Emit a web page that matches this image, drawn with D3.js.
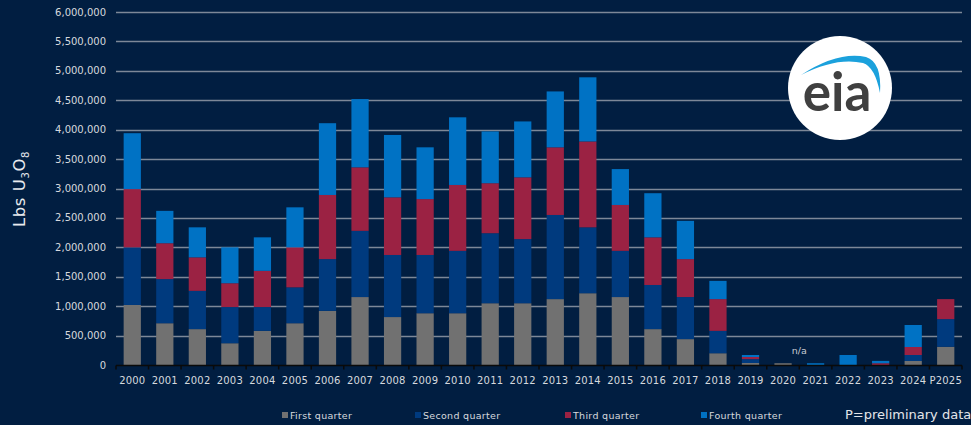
<!DOCTYPE html>
<html>
<head>
<meta charset="utf-8">
<script src="https://cdn.jsdelivr.net/npm/d3@7"></script>
<style>
  html, body { margin: 0; padding: 0; background: #011e41; }
  svg { display: block; font-family: "DejaVu Sans", sans-serif; }
</style>
</head>
<body>
<div id="chart"></div>
<script>
// quarterly U3O8 production, lbs
var years = ["2000", "2001", "2002", "2003", "2004", "2005", "2006", "2007", "2008", "2009",
  "2010", "2011", "2012", "2013", "2014", "2015", "2016", "2017", "2018", "2019",
  "2020", "2021", "2022", "2023", "2024", "P2025"];
var q1 = [1020000, 710000, 610000, 370000, 580000, 710000, 920000, 1155000, 815000, 880000,
  880000, 1050000, 1050000, 1120000, 1220000, 1155000, 610000, 440000, 200000, 34000,
  30000, 0, 0, 0, 68000, 310000];
var q2 = [980000, 750000, 650000, 615000, 405000, 610000, 880000, 1125000, 1055000, 990000,
  1060000, 1190000, 1090000, 1430000, 1120000, 785000, 750000, 715000, 380000, 66000,
  0, 0, 0, 0, 102000, 470000];
var q3 = [990000, 610000, 570000, 405000, 615000, 680000, 1090000, 1080000, 980000, 950000,
  1120000, 850000, 1050000, 1150000, 1460000, 780000, 810000, 645000, 540000, 36000,
  0, 0, 0, 30000, 136000, 340000];
var q4 = [950000, 550000, 510000, 610000, 570000, 680000, 1220000, 1160000, 1060000, 880000,
  1150000, 880000, 950000, 950000, 1090000, 610000, 750000, 650000, 310000, 34000,
  0, 30000, 170000, 40000, 374000, 0];
var quarters = ["First quarter", "Second quarter", "Third quarter", "Fourth quarter"];
var yTicks = d3.range(0, 6000001, 500000);

var colors = ["#717171", "#003a7e", "#9b2243", "#0072c4"];

var W = 971, H = 425;
var margin = { left: 116, right: 9, top: 12, bottom: 60 };

var svg = d3.select("#chart").append("svg")
  .attr("width", W)
  .attr("height", H);

svg.append("rect")
  .attr("width", W)
  .attr("height", H)
  .attr("fill", "#011e41");

var x = d3.scaleBand()
  .domain(years)
  .range([margin.left, W - margin.right])
  .paddingInner(0.47)
  .paddingOuter(0.235);

var y = d3.scaleLinear()
  .domain([0, 6000000])
  .range([H - margin.bottom, margin.top]);

// gridlines
svg.append("g")
  .selectAll("line")
  .data(yTicks.slice(1))
  .enter()
  .append("line")
  .attr("x1", margin.left)
  .attr("x2", W - margin.right)
  .attr("y1", d => Math.round(y(d)) + 0.5)
  .attr("y2", d => Math.round(y(d)) + 0.5)
  .attr("stroke", "#7d8898")
  .attr("stroke-width", 1.4);

// y labels
svg.append("g")
  .selectAll("text")
  .data(yTicks)
  .enter()
  .append("text")
  .attr("x", 106)
  .attr("y", d => y(d) + 3.5)
  .attr("text-anchor", "end")
  .attr("fill", "#d6d9de")
  .attr("font-size", 10)
  .text(d => d3.format(",")(d));

// stacked bars
var rows = years.map(function(yr, i) {
  return { year: yr, q1: q1[i], q2: q2[i], q3: q3[i], q4: q4[i] };
});
var stack = d3.stack().keys(["q1", "q2", "q3", "q4"])(rows);

svg.append("g")
  .selectAll("g")
  .data(stack)
  .enter()
  .append("g")
  .attr("fill", (d, i) => colors[i])
  .selectAll("rect")
  .data(d => d)
  .enter()
  .append("rect")
  .attr("x", d => x(d.data.year))
  .attr("width", x.bandwidth())
  .attr("y", d => y(d[1]))
  .attr("height", d => y(d[0]) - y(d[1]));

// x axis
var xAxis = svg.append("g")
  .attr("transform", "translate(0," + (y(0) + 0.5) + ")");
xAxis.append("line")
  .attr("x1", margin.left)
  .attr("x2", W - margin.right)
  .attr("stroke", "#0a0a0a")
  .attr("stroke-width", 1.5);
var step = x.step();
xAxis.selectAll(".tick")
  .data(d3.range(years.length + 1))
  .enter()
  .append("line")
  .attr("x1", i => margin.left + i * step)
  .attr("x2", i => margin.left + i * step)
  .attr("y1", 0)
  .attr("y2", 4)
  .attr("stroke", "#0a0a0a")
  .attr("stroke-width", 1.5);
xAxis.selectAll("text")
  .data(years)
  .enter()
  .append("text")
  .attr("x", d => x(d) + x.bandwidth() / 2)
  .attr("y", 18)
  .attr("text-anchor", "middle")
  .attr("fill", "#d6d9de")
  .attr("font-size", 10)
  .attr("letter-spacing", 0.2)
  .text(d => d);

// n/a note for 2020-2021
svg.append("text")
  .attr("x", (x("2020") + x("2021") + x.bandwidth()) / 2)
  .attr("y", 354)
  .attr("text-anchor", "middle")
  .attr("fill", "#c8ccd3")
  .attr("font-size", 9.5)
  .text("n/a");

// y title
var yt = svg.append("text")
  .attr("transform", "translate(25,189) rotate(-90)")
  .attr("text-anchor", "middle")
  .attr("fill", "#e8eaee")
  .attr("font-size", 16.5)
  .attr("letter-spacing", 0.6);
yt.append("tspan").text("Lbs U");
yt.append("tspan").attr("font-size", 10).attr("dy", 4).text("3");
yt.append("tspan").attr("dy", -4).text("O");
yt.append("tspan").attr("font-size", 10).attr("dy", 4).text("8");

// legend
var legendX = [282, 415, 565, 701];
var legend = svg.append("g")
  .selectAll("g")
  .data(quarters)
  .enter()
  .append("g")
  .attr("transform", (d, i) => "translate(" + legendX[i] + ",415)");
legend.append("rect")
  .attr("width", 6)
  .attr("height", 6)
  .attr("y", -3)
  .attr("fill", (d, i) => colors[i]);
legend.append("text")
  .attr("x", 8)
  .attr("y", 3.5)
  .attr("fill", "#d6d9de")
  .attr("font-size", 9.5)
  .attr("letter-spacing", 0.3)
  .text(d => d);

svg.append("text")
  .attr("x", 845)
  .attr("y", 419)
  .attr("fill", "#e4e6ea")
  .attr("font-size", 13)
  .text("P=preliminary data");

// eia logo
var logo = svg.append("g").attr("transform", "translate(840,88)");
logo.append("circle")
  .attr("r", 52)
  .attr("fill", "#ffffff");
logo.append("path")
  .attr("d", "M-39,-13 Q-2,-37 26,-31 Q42,-26 40,5 Q35,-21 23,-25 Q-4,-31 -39,-13 Z")
  .attr("fill", "#1ba1dc");
logo.append("text")
  .attr("x", -3)
  .attr("y", 23)
  .attr("text-anchor", "middle")
  .attr("fill", "#404040")
  .attr("font-size", 53)
  .attr("font-weight", "bold")
  .attr("font-family", "Lato, sans-serif")
  .text("eia");
</script>
</body>
</html>
